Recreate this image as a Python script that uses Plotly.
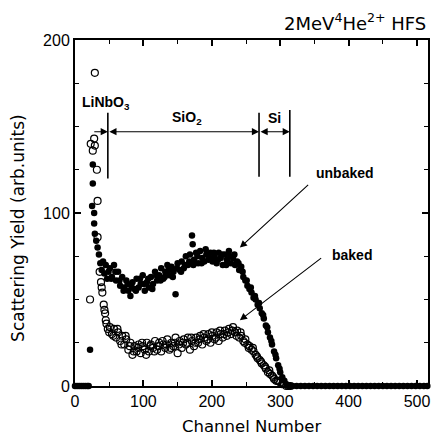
import plotly.graph_objects as go

# ---------------- data ----------------
zero_channels = [0, 3, 6, 9, 12, 15, 18, 20, 318, 324, 330, 336, 342, 348, 354, 360, 366, 372,
                 378, 384, 390, 396, 402, 408, 414, 420, 426, 432, 438, 444, 450, 456, 462,
                 468, 474, 480, 486, 492, 498, 504, 510, 515]
zero_values = [0] * len(zero_channels)

unbaked_channels = [22, 25, 26, 26, 28, 28, 29, 31, 33, 35, 37, 39, 41, 43, 45, 47, 49,
                    51, 54, 57, 60, 63, 66, 69, 72, 75, 78, 81, 84, 87, 90, 93, 96, 99, 102,
                    105, 108, 111, 114, 117, 120, 123, 126, 129, 132, 135, 138, 141, 144, 147,
                    150, 153, 156, 159, 162, 165, 168, 171, 174, 177, 180, 183, 186, 189, 192,
                    195, 198, 201, 204, 207, 210, 213, 216, 219, 222, 225, 228, 231, 234, 237,
                    240, 243, 246, 249, 252, 255, 258, 261, 264, 267, 270, 273, 276, 279, 282,
                    285, 288, 291, 294, 297, 300, 303, 306, 309, 312, 315]
unbaked_values = [21, 104, 128, 117, 100, 94, 88, 84, 80, 76, 71, 67, 72, 65, 70, 62, 66,
                  68, 63, 70, 61, 66, 58, 63, 57, 61, 55, 52, 60, 56, 62, 57, 59, 64, 55,
                  60, 57, 63, 59, 66, 61, 64, 68, 62, 66, 70, 64, 69, 66, 53,
                  71, 67, 72, 68, 75, 70, 76, 87, 73, 77, 71, 78, 74, 72, 76,
                  73, 77, 72, 75, 71, 77, 74, 70, 76, 73, 78, 71, 74, 70, 72,
                  67, 69, 63, 61, 58, 56, 54, 51, 50, 47, 45, 42, 39, 35, 31,
                  28, 24, 20, 16, 12, 8, 5, 3, 1, 0, 0]

unbaked_extra_channels = [53, 59, 65, 71, 77, 83, 89, 95, 101, 107, 113, 119, 125, 131, 137,
                          143, 149, 155, 161, 167, 172, 173, 179, 185, 191, 197, 203, 209, 215,
                          221, 227, 233, 239, 245, 251, 257, 263, 269, 275, 281, 287, 293, 299]
unbaked_extra_values = [62, 66, 61, 55, 59, 57, 55, 62, 59, 62, 56, 64, 61, 63, 67,
                        63, 68, 66, 70, 72, 82, 70, 75, 71, 79, 74, 77, 73, 76,
                        70, 75, 76, 71, 66, 61, 57, 52, 48, 41, 34, 26, 18, 10]

baked_channels = [22, 23, 26, 28, 29, 29, 32, 33, 33, 36, 38, 39, 40, 42, 43, 44, 45, 46, 48, 50,
                  51, 54, 57, 60, 63, 66, 69, 72, 75, 78, 81, 84, 87, 90, 93, 96, 99, 102,
                  105, 108, 111, 114, 117, 120, 123, 126, 129, 132, 135, 138, 141, 144, 147,
                  150, 153, 156, 159, 162, 165, 168, 171, 174, 177, 180, 183, 186, 189, 192,
                  195, 198, 201, 204, 207, 210, 213, 216, 219, 222, 225, 228, 231, 234, 237,
                  240, 243, 246, 249, 252, 255, 258, 261, 264, 267, 270, 273, 276, 279, 282,
                  285, 288, 291, 294, 297, 300, 303, 306, 309, 312, 315]
baked_values = [50, 140, 136, 143, 139, 181, 125, 107, 86, 66, 60, 57, 54, 47, 44, 42, 38, 36, 33, 31,
                34, 30, 33, 28, 31, 26, 29, 24, 27, 21, 25, 18, 23, 20, 24, 19, 23, 21,
                25, 20, 24, 22, 26, 21, 25, 20, 24, 22, 27, 21, 25, 23, 28,
                19, 26, 22, 27, 24, 28, 21, 26, 23, 28, 25, 29, 24, 28, 26,
                30, 25, 29, 27, 31, 26, 30, 28, 32, 29, 33, 30, 34, 31, 32,
                28, 29, 26, 27, 24, 23, 21, 20, 18, 16, 15, 13, 12, 10, 8,
                7, 6, 4, 3, 3, 2, 1, 1, 0, 0, 0]

baked_extra_channels = [56, 62, 68, 74, 80, 86, 92, 98, 104, 110, 116, 122, 128, 134, 140,
                        146, 152, 158, 164, 170, 176, 182, 188, 194, 200, 206, 212, 218, 224,
                        230, 236, 242, 248, 254, 260, 266, 272, 278, 284, 290, 296]
baked_extra_values = [29, 33, 24, 29, 23, 20, 22, 25, 18, 23, 20, 23, 26, 24, 22,
                      25, 24, 25, 25, 28, 25, 27, 30, 27, 31, 28, 32, 30, 31,
                      32, 29, 31, 25, 22, 22, 17, 14, 11, 9, 5, 3]

x_ticks = [0, 100, 200, 300, 400, 500]
y_ticks = [0, 100, 200]

AX_FONT = "Liberation Sans, Arial, sans-serif"
TITLE_FONT = "DejaVu Sans, sans-serif"

fig = go.Figure()

filled = dict(symbol="circle", size=6.5, color="black", line=dict(width=0))
opened = dict(symbol="circle-open", size=7, color="black", line=dict(width=1.2, color="black"))

fig.add_trace(go.Scatter(x=zero_channels, y=zero_values, mode="markers", marker=filled,
                         cliponaxis=False, showlegend=False, hoverinfo="skip"))
fig.add_trace(go.Scatter(x=unbaked_channels, y=unbaked_values, mode="markers", marker=filled,
                         cliponaxis=False, name="unbaked", showlegend=False))
fig.add_trace(go.Scatter(x=unbaked_extra_channels, y=unbaked_extra_values, mode="markers",
                         marker=filled, cliponaxis=False, name="unbaked", showlegend=False))
fig.add_trace(go.Scatter(x=baked_channels, y=baked_values, mode="markers", marker=opened,
                         cliponaxis=False, name="baked", showlegend=False))
fig.add_trace(go.Scatter(x=baked_extra_channels, y=baked_extra_values, mode="markers",
                         marker=opened, cliponaxis=False, name="baked", showlegend=False))

axis_common = dict(showline=True, linecolor="black", linewidth=2, mirror="allticks",
                   ticks="inside", ticklen=6, tickwidth=1.5, tickcolor="black",
                   showgrid=False, zeroline=False,
                   tickfont=dict(family=AX_FONT, size=16, color="black"))

fig.update_xaxes(range=[0, 516], tickvals=x_ticks, ticktext=[str(v) for v in x_ticks],
                 minor=dict(dtick=50, tick0=0, ticks="inside", ticklen=4, tickwidth=1.2,
                            tickcolor="black"),
                 **axis_common)
fig.update_yaxes(range=[0, 200], tickvals=y_ticks, ticktext=[str(v) for v in y_ticks],
                 minor=dict(dtick=25, tick0=0, ticks="inside", ticklen=4, tickwidth=1.2,
                            tickcolor="black"),
                 **axis_common)

bold = dict(family="Liberation Sans, Arial, sans-serif", size=14, color="black", weight="bold")

annotations = [
    dict(text="2MeV<sup>4</sup>He<sup>2+</sup> HFS", xref="paper", yref="paper", x=1.0, y=1.0,
         xanchor="right", yanchor="bottom", yshift=4, showarrow=False,
         font=dict(family=TITLE_FONT, size=18, color="black")),
    dict(text="Channel Number", xref="paper", yref="paper", x=0.5, y=0, yshift=-40,
         xanchor="center", yanchor="middle", showarrow=False,
         font=dict(family=TITLE_FONT, size=16.5, color="black")),
    dict(text="Scattering Yield (arb.units)", xref="paper", yref="paper", x=0, y=0.457,
         xshift=-57, xanchor="center", yanchor="middle", textangle=-90, showarrow=False,
         font=dict(family=TITLE_FONT, size=17, color="black")),
    dict(text="LiNbO<sub>3</sub>", x=45, y=163.5, showarrow=False, font=bold),
    dict(text="SiO<sub>2</sub>", x=163, y=155, showarrow=False, font=bold),
    dict(text="Si", x=291, y=155, showarrow=False, font=bold),
    dict(text="unbaked", x=395, y=123, showarrow=False, font=bold),
    dict(text="baked", x=405, y=76, showarrow=False, font=bold),
]

arrows = [
    # (head x, head y, tail x, tail y, double)
    (48, 147, 26, 147, False),
    (269, 147, 48, 147, True),
    (314, 147, 269, 147, True),
    (241, 80, 343, 117, False),
    (241, 38, 362, 74.6, False),
]
for hx, hy, tx, ty, dbl in arrows:
    annotations.append(dict(text="", x=hx, y=hy, ax=tx, ay=ty, xref="x", yref="y",
                            axref="x", ayref="y", showarrow=True, arrowhead=2,
                            startarrowhead=2, arrowsize=1.3, startarrowsize=1.3,
                            arrowwidth=1.1, arrowcolor="black",
                            arrowside="end+start" if dbl else "end",
                            standoff=0, startstandoff=0))

markers_lines = [(48, 120, 158), (269, 121, 158), (314, 121, 159.5)]
shapes = [dict(type="line", xref="x", yref="y", x0=x, x1=x, y0=y0, y1=y1,
               line=dict(color="black", width=1.6)) for x, y0, y1 in markers_lines]

fig.update_layout(width=438, height=438, margin=dict(l=75, r=8, t=40, b=52),
                  plot_bgcolor="white", paper_bgcolor="white",
                  annotations=annotations, shapes=shapes, showlegend=False)

fig.write_html("out.html", config={"displayModeBar": False},
               post_script="document.body.style.margin='0';document.body.style.overflow='hidden';")
